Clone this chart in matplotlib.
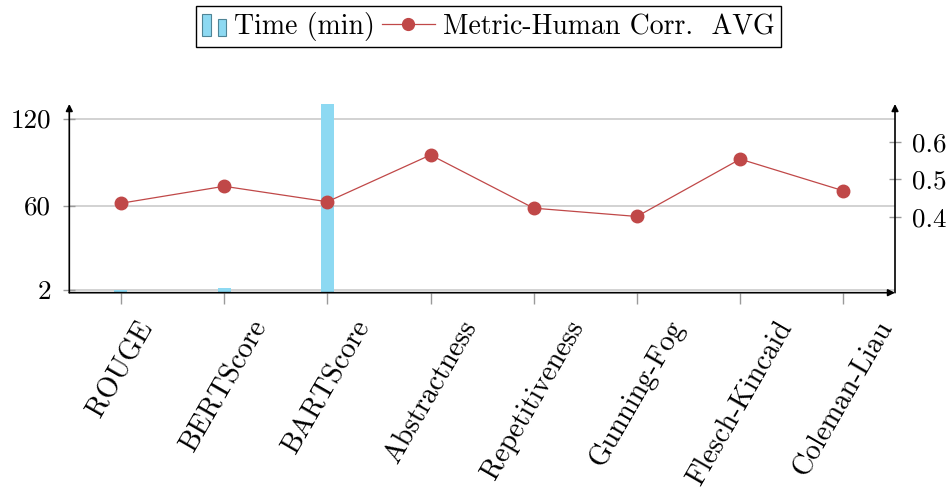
import matplotlib
matplotlib.use('Agg')
import matplotlib.pyplot as plt
from matplotlib.patches import Rectangle
from matplotlib.lines import Line2D
from matplotlib.legend_handler import HandlerBase

categories = ['ROUGE', 'BERTScore', 'BARTScore', 'Abstractness', 'Repetitiveness',
              'Gunning-Fog', 'Flesch-Kincaid', 'Coleman-Liau']
time_min = [2, 3, 140, 0, 0, 0, 0, 0]
corr_avg = [0.437, 0.482, 0.441, 0.565, 0.424, 0.402, 0.554, 0.470]
left_ticks = [2, 60, 120]
right_ticks = [0.4, 0.5, 0.6]
right_tick_labels = ['0.4', '0.5', '0.6']

plt.rcParams['font.family'] = 'cmr10'
plt.rcParams['mathtext.fontset'] = 'cm'
plt.rcParams['axes.formatter.use_mathtext'] = True
FS = 19.5
XFS = 20.5
LFS = 20

BAR_C = '#8DD9F2'
BAR_EDGE = '#4F8496'
LINE_C = '#C04848'
GRID_C = '#cfcfcf'
TICK_C = '#9a9a9a'

W, H = 951, 490
fig = plt.figure(figsize=(W / 100, H / 100), dpi=100)
L, R, B, T = 69.3, 895, 292.7, 104
ax = fig.add_axes([L / W, 1 - B / H, (R - L) / W, (B - T) / H])

x = list(range(len(categories)))
ax.bar(x, time_min, width=0.126, color=BAR_C, linewidth=0, zorder=2)
ax.set_xlim(-0.5, 7.5)
ax.set_ylim(0, 130)
ax.set_yticks(left_ticks)
ax.set_yticklabels([str(t) for t in left_ticks], fontsize=FS)
ax.grid(axis='y', color=GRID_C, linewidth=1.3, zorder=0)
ax.set_axisbelow(True)
ax.set_xticks(x)
ax.set_xticklabels(categories, rotation=60, ha='center', va='top', fontsize=XFS)
ax.tick_params(axis='x', direction='out', length=8, width=1, color=TICK_C, pad=9)
ax.tick_params(axis='y', direction='inout', length=8, width=1, color=TICK_C, pad=9)
for s in ax.spines.values():
    s.set_visible(False)

ax2 = ax.twinx()
ax2.plot(x, corr_avg, color=LINE_C, marker='o', markersize=9, linewidth=0.9, zorder=3)
ax2.set_ylim(0.2, 0.7)
ax2.set_yticks(right_ticks)
ax2.set_yticklabels(right_tick_labels, fontsize=FS)
ax2.tick_params(axis='y', direction='inout', length=8, width=1, color=TICK_C, pad=8)
for s in ax2.spines.values():
    s.set_visible(False)

arrow_kw = dict(arrowstyle='-|>', color='black', lw=1.2, mutation_scale=10,
                shrinkA=0, shrinkB=0)
for (x0, y0, x1, y1) in [(0, 0, 0, 1.0), (0, 0, 1.0, 0), (1, 0, 1, 1.0)]:
    ax2.annotate('', xy=(x1, y1), xytext=(x0, y0), xycoords='axes fraction',
                 textcoords='axes fraction', arrowprops=arrow_kw, annotation_clip=False)


class DoubleBarHandler(HandlerBase):
    def create_artists(self, legend, orig_handle, xdescent, ydescent, width, height,
                       fontsize, trans):
        x0 = -xdescent
        y0 = -ydescent - 0.08 * height
        r1 = Rectangle((x0, y0), width * 0.38, height * 1.10,
                       facecolor=BAR_C, edgecolor=BAR_EDGE, lw=0.8, transform=trans)
        r2 = Rectangle((x0 + width * 0.66, y0), width * 0.32, height * 0.88,
                       facecolor=BAR_C, edgecolor=BAR_EDGE, lw=0.8, transform=trans)
        return [r1, r2]


class LongLineHandler(HandlerBase):
    def create_artists(self, legend, orig_handle, xdescent, ydescent, width, height,
                       fontsize, trans):
        y = -ydescent + height / 2
        x0 = -xdescent - 21
        x1 = -xdescent + width
        ln = Line2D([x0, x1], [y, y], color=LINE_C, lw=0.9, transform=trans)
        mk = Line2D([(x0 + x1) / 2], [y], color=LINE_C, marker='o', markersize=8.5,
                    linestyle='none', transform=trans)
        return [ln, mk]


bar_proxy = Rectangle((0, 0), 1, 1)
line_proxy = Line2D([], [])
leg = fig.legend([bar_proxy, line_proxy], ['Time (min)', 'Metric-Human Corr.  AVG'],
                 loc='upper center', bbox_to_anchor=(488.5 / W, 1 - 6 / H), ncol=2,
                 fontsize=LFS, frameon=True, fancybox=False, edgecolor='black', framealpha=1,
                 handlelength=0.86, handletextpad=0.29, columnspacing=1.3, borderpad=0.22,
                 borderaxespad=0,
                 handler_map={Rectangle: DoubleBarHandler(), Line2D: LongLineHandler()})
leg.get_frame().set_linewidth(1.0)

fig.savefig('out.png', dpi=100)
